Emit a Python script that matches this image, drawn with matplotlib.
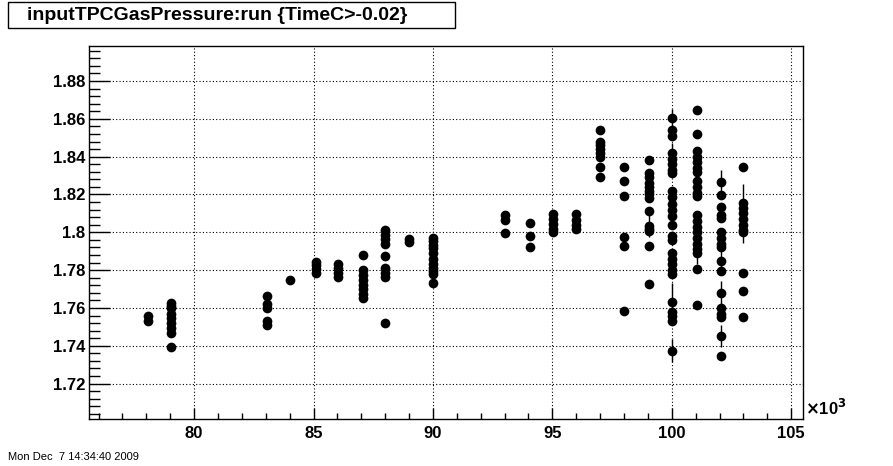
import matplotlib
matplotlib.use("Agg")
import matplotlib.pyplot as plt
from matplotlib.patches import Rectangle
from matplotlib.ticker import MultipleLocator, FuncFormatter

plt.rcParams["font.family"] = ["Liberation Sans", "DejaVu Sans"]
plt.rcParams["font.weight"] = "bold"

TITLE = "inputTPCGasPressure:run {TimeC>-0.02}"
STAMP = "Mon Dec  7 14:34:40 2009"

# run number of each column of points
runs = [78070, 79030, 83040, 84030, 85090, 86010, 87060, 88000, 89010, 90020,
        93020, 94070, 95040, 96000, 97010, 98000, 99060, 100020, 101050, 102050, 103000]

# inputTPCGasPressure readings per run (same order as runs)
p78 = [1.7555, 1.7530]
p79 = [1.7625, 1.7610, 1.7600, 1.7570, 1.7545, 1.7520, 1.7495, 1.7470, 1.7395]
p83 = [1.7665, 1.7620, 1.7600, 1.7530, 1.7510]
p84 = [1.7748]
p85 = [1.7845, 1.7825, 1.7805, 1.7785]
p86 = [1.7835, 1.7810, 1.7785, 1.7765]
p87 = [1.7880, 1.7800, 1.7775, 1.7750, 1.7720, 1.7700, 1.7675, 1.7650]
p88 = [1.8010, 1.7985, 1.7965, 1.7940, 1.7875, 1.7810, 1.7785, 1.7765, 1.7520]
p89 = [1.7962, 1.7950]
p90 = [1.7970, 1.7955, 1.7935, 1.7915, 1.7890, 1.7860, 1.7830, 1.7810, 1.7795,
       1.7780, 1.7730]
p93 = [1.8090, 1.8065, 1.7995]
p94 = [1.8048, 1.7980, 1.7924]
p95 = [1.8095, 1.8070, 1.8045, 1.8020, 1.8000]
p96 = [1.8095, 1.8065, 1.8040, 1.8020]
p97 = [1.8540, 1.8480, 1.8460, 1.8440, 1.8420, 1.8400, 1.8345, 1.8290]
p98 = [1.8345, 1.8270, 1.8192, 1.7975, 1.7928, 1.7584]
p99 = [1.8382, 1.8315, 1.8290, 1.8260, 1.8240, 1.8220, 1.8200, 1.8180, 1.8110,
       1.8035, 1.8020, 1.8005, 1.7928, 1.7727]
p100 = [1.8603, 1.8540, 1.8510, 1.8420, 1.8390, 1.8360, 1.8330, 1.8315, 1.8220,
        1.8185, 1.8150, 1.8120, 1.8085, 1.8040, 1.7980, 1.7960, 1.7890, 1.7860,
        1.7830, 1.7800, 1.7780, 1.7634, 1.7580, 1.7555, 1.7530, 1.7375]
p101 = [1.8647, 1.8520, 1.8430, 1.8400, 1.8370, 1.8340, 1.8320, 1.8270, 1.8240,
        1.8210, 1.8190, 1.8090, 1.8060, 1.8030, 1.8000, 1.7970, 1.7940, 1.7910,
        1.7890, 1.7806, 1.7616]
p102 = [1.8268, 1.8197, 1.8134, 1.8094, 1.8075, 1.8000, 1.7970, 1.7940, 1.7924,
        1.7849, 1.7796, 1.7681, 1.7600, 1.7570, 1.7550, 1.7452, 1.7346]
p103 = [1.8344, 1.8155, 1.8130, 1.8100, 1.8070, 1.8040, 1.8010, 1.8000, 1.7787,
        1.7690, 1.7551]
pressures = [p78, p79, p83, p84, p85, p86, p87, p88, p89, p90, p93, p94, p95,
             p96, p97, p98, p99, p100, p101, p102, p103]

# the few points whose error bars stick out of the marker
err_run = [99060, 99060, 100020, 100020, 100020, 100020, 100020, 101050, 101050,
           102050, 102050, 102050, 102050, 103000]
err_p = [1.8220, 1.8035, 1.8603, 1.8390, 1.8150, 1.7634, 1.7375, 1.8240, 1.7890,
         1.8268, 1.7849, 1.7681, 1.7452, 1.8100]
err_size = [0.006, 0.006, 0.005, 0.008, 0.006, 0.010, 0.006, 0.006, 0.006,
            0.006, 0.006, 0.006, 0.006, 0.0155]

W, H = 893, 466
fig = plt.figure(figsize=(W / 100, H / 100), dpi=100)
ax = fig.add_axes([0.100, 0.1009, 0.7996, 0.8004])

ax.errorbar(err_run, err_p, yerr=err_size, fmt="none", ecolor="black",
            elinewidth=1.0, capsize=0, zorder=2)
for r, ps in zip(runs, pressures):
    ax.plot([r] * len(ps), ps, "o", color="black", ms=7.0, mew=0, zorder=3)

ax.set_xlim(75610, 105510)
ax.set_ylim(1.7013, 1.8985)

ax.xaxis.set_major_locator(MultipleLocator(5000))
ax.xaxis.set_minor_locator(MultipleLocator(1000))
ax.yaxis.set_major_locator(MultipleLocator(0.02))
ax.yaxis.set_minor_locator(MultipleLocator(0.004))
ax.xaxis.set_major_formatter(FuncFormatter(lambda v, _: f"{v / 1000:g}"))
ax.yaxis.set_major_formatter(FuncFormatter(lambda v, _: f"{v:g}"))

ax.tick_params(axis="both", which="both", direction="in", top=False, right=False,
               width=1.0, labelsize=12)
ax.tick_params(axis="y", which="major", length=15.4, pad=3)
ax.tick_params(axis="y", which="minor", length=7.7)
ax.tick_params(axis="x", which="major", length=8.0, pad=5)
ax.tick_params(axis="x", which="minor", length=4.0)

ax.grid(True, which="major", color="black", linestyle=(0, (1, 2)), linewidth=0.8)
ax.set_axisbelow(True)
for s in ax.spines.values():
    s.set_linewidth(1.0)

ax.text(1.003, 0.03, r"$\times$10$^{3}$", transform=ax.transAxes,
        fontsize=12, ha="left", va="center")

# title box, ROOT style
fig.patches.append(Rectangle((7.5 / W, 1 - 28 / H), 447.5 / W, 26 / H,
                             transform=fig.transFigure, fill=False,
                             edgecolor="black", linewidth=1.0))
fig.text(27 / W, 1 - 15.5 / H, TITLE, fontsize=14, ha="left", va="center")
fig.text(8 / W, 1 - 457 / H, STAMP, fontsize=8, ha="left", va="center",
         fontweight="normal")

fig.savefig("out.png", dpi=100)
